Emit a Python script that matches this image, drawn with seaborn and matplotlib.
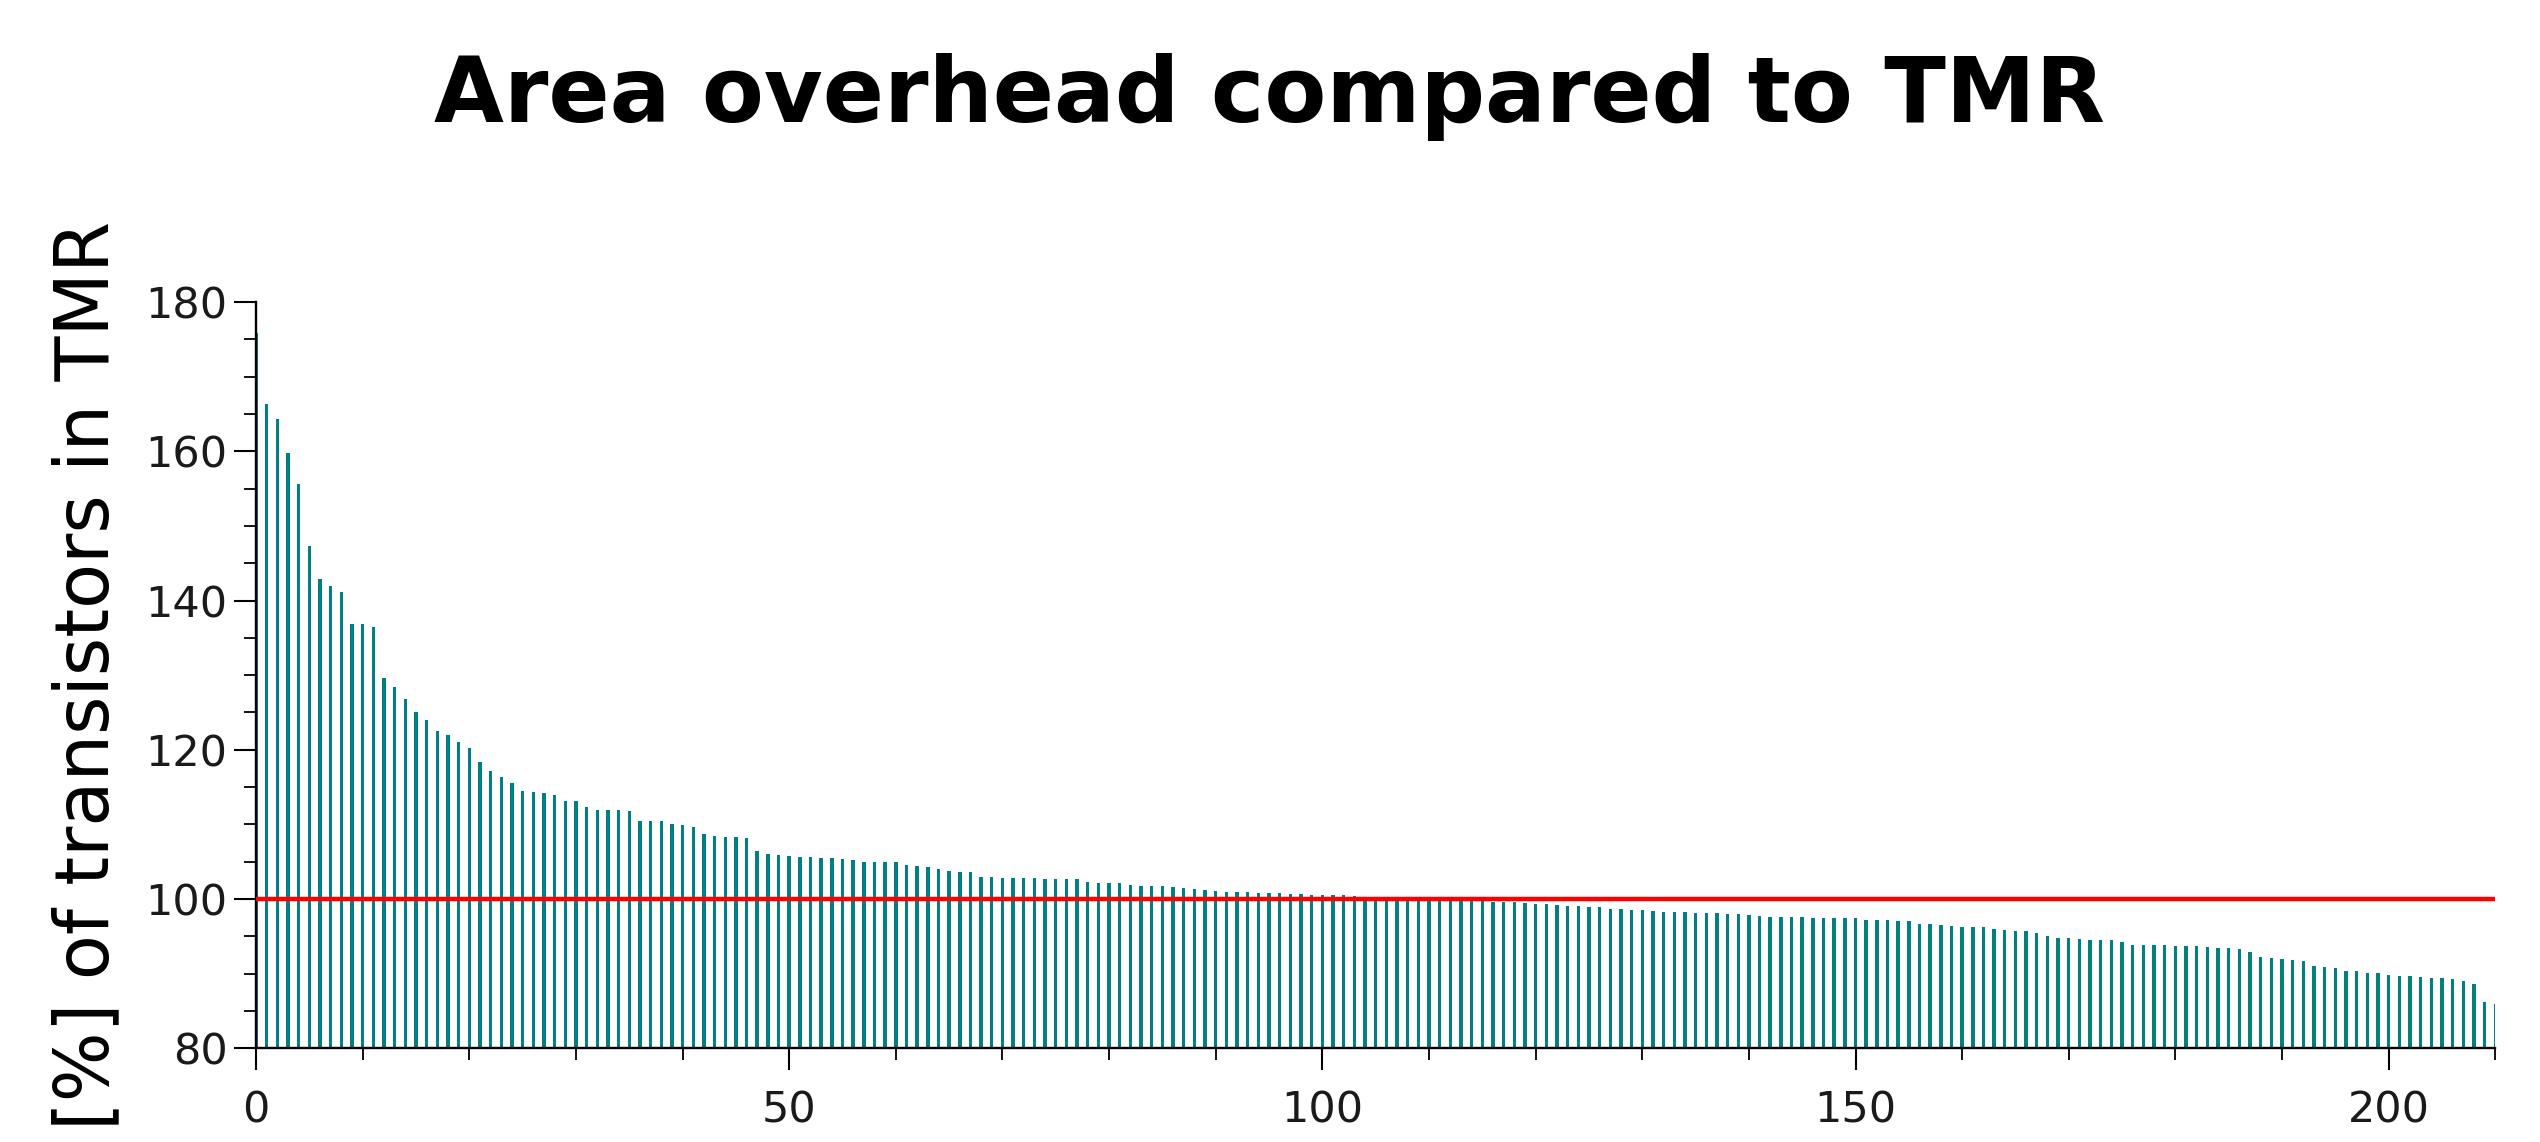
import numpy as np
import matplotlib
matplotlib.use('Agg')
import matplotlib.pyplot as plt
import pandas as pd
import seaborn as sns

# overhead per design, sorted descending
overhead = [
    175.9, 166.3, 164.3, 159.7, 155.6, 147.3, 142.9, 141.9, 141.2, 136.9,
    136.9, 136.4, 129.6, 128.4, 126.8, 125.0, 124.0, 122.5, 122.0, 121.0,
    120.3, 118.4, 117.2, 116.3, 115.5, 114.5, 114.4, 114.2, 113.9, 113.2,
    113.2, 112.4, 112.0, 111.9, 111.9, 111.8, 110.4, 110.4, 110.4, 110.0,
    109.9, 109.7, 108.7, 108.4, 108.3, 108.3, 108.2, 106.5, 106.0, 105.9,
    105.75, 105.7, 105.7, 105.55, 105.45, 105.35, 105.3, 105.0, 105.0, 104.95,
    104.9, 104.6, 104.4, 104.3, 104.0, 103.7, 103.65, 103.6, 103.0, 102.9,
    102.85, 102.8, 102.8, 102.8, 102.7, 102.7, 102.7, 102.7, 102.3, 102.1,
    102.1, 102.1, 101.9, 101.8, 101.8, 101.7, 101.6, 101.55, 101.3, 101.25,
    101.1, 100.9, 100.9, 100.9, 100.85, 100.85, 100.8, 100.7, 100.65, 100.6,
    100.6, 100.6, 100.6, 100.4, 100.3, 100.2, 100.1, 100.0, 99.95, 99.9,
    99.9, 99.85, 99.8, 99.8, 99.75, 99.7, 99.6, 99.6, 99.55, 99.45,
    99.36, 99.36, 99.23, 99.05, 99.05, 98.9, 98.9, 98.7, 98.7, 98.55,
    98.47, 98.4, 98.33, 98.33, 98.27, 98.2, 98.15, 98.1, 98.0, 98.0,
    97.9, 97.7, 97.66, 97.6, 97.57, 97.57, 97.5, 97.5, 97.44, 97.4,
    97.4, 97.26, 97.17, 97.13, 97.1, 97.04, 96.64, 96.64, 96.55, 96.37,
    96.32, 96.3, 96.2, 95.98, 95.8, 95.76, 95.67, 95.4, 95.08, 94.8,
    94.77, 94.64, 94.5, 94.5, 94.46, 94.28, 93.88, 93.88, 93.88, 93.83,
    93.74, 93.74, 93.7, 93.57, 93.48, 93.43, 93.34, 92.85, 92.3, 92.17,
    91.97, 91.8, 91.7, 91.08, 90.95, 90.77, 90.41, 90.32, 90.14, 90.1,
    89.88, 89.7, 89.7, 89.6, 89.47, 89.38, 89.29, 89.07, 88.67, 86.26,
    85.9,
]
design = list(range(len(overhead)))
tmr_level = 100

df = pd.DataFrame({'design': design, 'overhead': overhead})

fig = plt.figure(figsize=(25.4, 11.42), dpi=100)
ax = fig.add_axes([0.1008, 0.0820, 0.8816, 0.6536])

sns.barplot(data=df, x='design', y='overhead', native_scale=True, width=0.32,
            color='#008080', saturation=1, linewidth=0, ax=ax)
ax.axhline(tmr_level, color='red', lw=3.2, zorder=3)

ax.set_xlim(0, 210)
ax.set_ylim(80, 180)
ax.set_xticks(np.arange(0, 201, 50))
ax.set_xticks(np.arange(0, 211, 10), minor=True)
ax.set_yticks(np.arange(80, 181, 20))
ax.set_yticks(np.arange(80, 181, 5), minor=True)

ax.tick_params(which='major', length=15.6, width=1.5, labelsize=31,
               labelcolor='#1a1a1a')
ax.tick_params(which='minor', length=8.8, width=1.3)
ax.tick_params(axis='x', which='major', pad=14)
ax.tick_params(axis='y', which='major', pad=5)

for s in ['top', 'right']:
    ax.spines[s].set_visible(False)
for s in ['left', 'bottom']:
    ax.spines[s].set_linewidth(1.7)

ax.set_xlabel('')
ax.set_ylabel('[%] of transistors in TMR', fontsize=53)
ax.yaxis.set_label_coords(-0.059, 0.5)

fig.text(0.5, 0.8934, 'Area overhead compared to TMR', ha='center',
         va='baseline', fontsize=65, fontweight='bold')

fig.savefig('out.png', dpi=100)
